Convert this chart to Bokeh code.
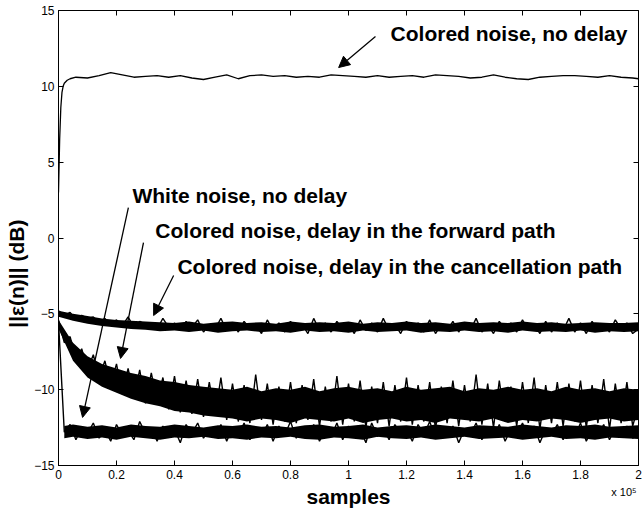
import numpy as np
from bokeh.plotting import figure
from bokeh.models import Arrow, NormalHead, Label, LinearAxis, FixedTicker, Range1d
from bokeh.embed import file_html
from bokeh.resources import INLINE

# ---------------- data ----------------
x_ticks = [0, 0.2, 0.4, 0.6, 0.8, 1, 1.2, 1.4, 1.6, 1.8, 2]
x_tick_labels = ["0", "0.2", "0.4", "0.6", "0.8", "1", "1.2", "1.4", "1.6", "1.8", "2"]
y_ticks = [-15, -10, -5, 0, 5, 10, 15]

# Colored noise, no delay (smooth curve)
x_col_nodelay = [0, 0.004, 0.008, 0.012, 0.016, 0.02, 0.03, 0.04,
                 0.06, 0.10, 0.14, 0.18, 0.22, 0.26, 0.30, 0.34, 0.38, 0.42,
                 0.46, 0.50, 0.54, 0.58, 0.62, 0.66, 0.70, 0.74, 0.78, 0.82,
                 0.86, 0.90, 0.94, 0.98, 1.02, 1.06, 1.10, 1.14, 1.18, 1.22,
                 1.26, 1.30, 1.34, 1.38, 1.42, 1.46, 1.50, 1.54, 1.58, 1.62,
                 1.66, 1.70, 1.74, 1.78, 1.82, 1.86, 1.90, 1.94, 1.98, 2.0]
y_col_nodelay = [3.0, 6.5, 8.6, 9.6, 10.0, 10.2, 10.4, 10.5,
                 10.6, 10.55, 10.7, 10.9, 10.75, 10.6, 10.65, 10.7, 10.6, 10.7,
                 10.55, 10.45, 10.6, 10.75, 10.5, 10.7, 10.75, 10.65, 10.7, 10.6,
                 10.65, 10.6, 10.75, 10.7, 10.65, 10.6, 10.7, 10.6, 10.65, 10.7,
                 10.6, 10.75, 10.7, 10.65, 10.55, 10.6, 10.75, 10.6, 10.5, 10.45,
                 10.6, 10.65, 10.7, 10.7, 10.65, 10.6, 10.7, 10.6, 10.55, 10.5]

# sample positions of the noisy curves (x 10^5)
x_noisy = [round(0.02 * i, 2) for i in range(101)]

# Colored noise, delay in the cancellation path
y_col_cancel = [
    -4.8, -5.1, -4.9, -5.4, -5.1, -5.3, -5.2, -5.6, -5.3, -5.7,
    -5.4, -5.8, -5.2, -5.9, -5.5, -5.7, -5.6, -6.0, -5.3, -5.9,
    -5.6, -6.1, -5.5, -5.9, -5.4, -6.2, -5.7, -6.0, -5.3, -6.1,
    -5.6, -6.2, -5.5, -6.0, -5.7, -6.3, -5.4, -6.1, -5.6, -6.2,
    -5.5, -6.1, -5.7, -6.3, -5.3, -6.1, -5.6, -6.2, -5.5, -6.0,
    -5.7, -6.3, -5.4, -6.1, -5.6, -6.2, -5.3, -6.1, -5.7, -6.3,
    -5.5, -6.0, -5.6, -6.2, -5.4, -6.3, -5.7, -6.1, -5.5, -6.2,
    -5.6, -6.1, -5.3, -6.2, -5.7, -6.3, -5.5, -6.0, -5.6, -6.2,
    -5.4, -6.1, -5.7, -6.3, -5.5, -6.2, -5.6, -6.1, -5.3, -6.2,
    -5.6, -6.3, -5.5, -6.1, -5.7, -6.2, -5.4, -6.0, -5.6, -6.3,
    -6.0]

# Colored noise, delay in the forward path
y_col_forward = [
    -5.4, -6.9, -6.5, -8.0, -7.3, -8.7, -7.7, -9.2, -8.1, -9.7,
    -8.3, -10.3, -8.6, -10.5, -8.7, -10.9, -8.9, -10.8, -9.2, -11.3,
    -9.1, -11.5, -9.4, -11.6, -9.3, -11.8, -9.5, -11.7, -9.2, -12.0,
    -9.6, -12.1, -9.7, -12.2, -9.0, -12.0, -9.6, -12.3, -9.8, -12.1,
    -9.5, -12.2, -9.7, -12.0, -9.3, -12.4, -9.8, -12.1, -9.1, -12.3,
    -9.6, -12.1, -9.4, -12.5, -9.8, -12.2, -9.5, -12.4, -9.7, -12.1,
    -9.2, -12.3, -9.7, -12.1, -9.5, -12.6, -9.8, -12.2, -9.4, -12.4,
    -9.7, -12.1, -9.0, -12.3, -9.6, -12.5, -9.4, -12.1, -9.8, -12.4,
    -9.5, -12.2, -9.2, -12.6, -9.7, -12.2, -9.5, -12.4, -9.6, -12.1,
    -9.4, -12.5, -9.7, -12.2, -9.3, -12.6, -9.6, -12.2, -9.5, -12.4,
    -11.0]

# White noise, no delay
y_white = [
    -5.5, -12.8, -12.3, -13.3, -12.5, -12.9, -12.2, -13.2, -12.6, -13.4,
    -12.3, -13.0, -12.7, -13.3, -12.1, -12.9, -12.5, -13.4, -12.4, -13.0,
    -12.6, -13.5, -12.3, -12.9, -12.2, -13.2, -12.6, -13.1, -12.3, -13.4,
    -12.5, -13.0, -12.2, -13.3, -12.6, -13.1, -12.3, -13.4, -12.4, -13.0,
    -12.1, -13.2, -12.5, -13.0, -12.3, -13.4, -12.6, -13.1, -12.2, -13.3,
    -12.4, -13.0, -12.6, -13.5, -12.2, -13.1, -12.5, -13.3, -12.3, -12.9,
    -12.6, -13.4, -12.3, -13.0, -12.1, -13.2, -12.5, -13.1, -12.4, -13.5,
    -12.6, -13.0, -12.2, -13.3, -12.5, -13.1, -12.3, -13.4, -12.6, -13.0,
    -12.2, -13.2, -12.4, -13.5, -12.6, -13.0, -12.3, -13.3, -12.5, -13.1,
    -12.2, -13.4, -12.6, -13.0, -12.3, -13.3, -12.5, -13.1, -12.4, -13.2,
    -12.8]

# dense cores of the noisy bands (every 0.05 x 10^5)
x_core = [round(0.05 * i, 2) for i in range(41)]
cancel_hi = [-4.8, -5.0, -5.15, -5.3, -5.4, -5.45, -5.5,
             -5.55, -5.6, -5.5, -5.65, -5.55, -5.5, -5.6, -5.55, -5.65, -5.5,
             -5.6, -5.55, -5.6, -5.5, -5.65, -5.55, -5.6, -5.5, -5.6, -5.55,
             -5.65, -5.5, -5.6, -5.55, -5.6, -5.5, -5.6, -5.55, -5.65, -5.6,
             -5.55, -5.6, -5.6, -5.55]
cancel_lo = [-5.2, -5.45, -5.65, -5.8, -5.9, -6.0, -6.05,
             -6.15, -6.1, -6.2, -6.1, -6.25, -6.15, -6.1, -6.2, -6.15, -6.25,
             -6.1, -6.2, -6.15, -6.25, -6.1, -6.2, -6.15, -6.1, -6.25, -6.15,
             -6.2, -6.1, -6.2, -6.15, -6.25, -6.1, -6.2, -6.15, -6.2, -6.1,
             -6.25, -6.15, -6.2, -6.15]
forward_hi = [-5.4, -6.9, -7.8, -8.3, -8.6, -8.9, -9.1, -9.4, -9.5, -9.7, -9.8,
              -9.9, -10.0, -9.8, -10.1, -9.9, -10.0, -9.8, -10.1, -9.9, -9.8,
              -10.0, -9.9, -10.1, -9.8, -10.0, -9.9, -9.8, -10.1, -9.9, -10.0,
              -9.8, -10.0, -9.9, -10.1, -9.8, -10.0, -9.9, -10.1, -9.9, -10.0]
forward_lo = [-6.0, -8.1, -9.2, -9.8, -10.2, -10.6, -10.9, -11.1, -11.4, -11.5, -11.7,
              -11.8, -11.9, -12.1, -11.9, -12.0, -12.2, -11.9, -12.0, -12.1, -11.9,
              -12.2, -12.0, -11.9, -12.1, -12.0, -12.2, -11.9, -12.0, -12.1, -11.9,
              -12.2, -12.0, -12.1, -11.9, -12.0, -12.2, -12.0, -11.9, -12.1, -12.0]
x_white_core = [0.02] + x_core[1:]
white_hi = [-12.4, -12.3, -12.45, -12.35, -12.5, -12.3, -12.4, -12.45, -12.3, -12.4, -12.5,
            -12.35, -12.4, -12.3, -12.45, -12.4, -12.5, -12.35, -12.3, -12.45, -12.4,
            -12.3, -12.5, -12.4, -12.35, -12.45, -12.3, -12.4, -12.5, -12.35, -12.4,
            -12.45, -12.3, -12.4, -12.5, -12.35, -12.4, -12.3, -12.45, -12.4, -12.35]
white_lo = [-13.2, -13.1, -13.25, -13.15, -13.3, -13.1, -13.2, -13.3, -13.15, -13.2, -13.1,
            -13.25, -13.2, -13.3, -13.15, -13.2, -13.1, -13.25, -13.3, -13.15, -13.2,
            -13.3, -13.1, -13.2, -13.25, -13.15, -13.3, -13.2, -13.1, -13.25, -13.2,
            -13.15, -13.3, -13.2, -13.1, -13.25, -13.2, -13.3, -13.15, -13.2, -13.25]

# axis texts
x_title = "samples"
x_scale_note = "x 10⁵"
y_title = "||ε(n)|| (dB)"

# ---------------- figure ----------------
FONT = "Liberation Sans"

p = figure(width=644, height=517,
           x_range=Range1d(0, 2), y_range=Range1d(-15, 15),
           output_backend="svg", toolbar_location=None,
           min_border_left=58, min_border_right=6,
           min_border_top=10, min_border_bottom=52)
p.background_fill_color = "white"
p.border_fill_color = "white"
p.outline_line_color = "black"
p.outline_line_width = 1
p.xgrid.visible = False
p.ygrid.visible = False

for ax in (p.xaxis[0], p.yaxis[0]):
    ax.major_tick_in = 5
    ax.major_tick_out = 0
    ax.minor_tick_line_color = None
    ax.axis_line_color = "black"
    ax.major_label_text_font = FONT
    ax.major_label_text_font_size = "12px"
    ax.major_label_text_color = "black"
    ax.major_label_standoff = 4

p.xaxis.ticker = FixedTicker(ticks=x_ticks)
p.xaxis.major_label_overrides = {t: s for t, s in zip(x_ticks, x_tick_labels)}
p.yaxis.ticker = FixedTicker(ticks=y_ticks)

# ticks on top and right (no labels)
top_ax = LinearAxis(ticker=FixedTicker(ticks=x_ticks), major_tick_in=5, major_tick_out=0,
                    minor_tick_line_color=None, axis_line_color=None,
                    major_label_text_font_size="1px", major_label_text_color=None,
                    major_label_standoff=0)
p.add_layout(top_ax, "above")
right_ax = LinearAxis(ticker=FixedTicker(ticks=y_ticks), major_tick_in=5, major_tick_out=0,
                      minor_tick_line_color=None, axis_line_color=None,
                      major_label_text_font_size="1px", major_label_text_color=None,
                      major_label_standoff=0)
p.add_layout(right_ax, "right")

# second bottom axis: carries the "x 10^5" note and the "samples" title
note_x = 1.95
bottom2 = LinearAxis(ticker=FixedTicker(ticks=[note_x]),
                     major_label_overrides={note_x: x_scale_note},
                     major_tick_line_color=None, minor_tick_line_color=None,
                     axis_line_color=None, major_tick_in=0, major_tick_out=0,
                     major_label_standoff=4, major_label_text_font=FONT,
                     major_label_text_font_size="11px", major_label_text_color="black",
                     axis_label=x_title, axis_label_standoff=-16,
                     axis_label_text_font=FONT, axis_label_text_font_style="bold",
                     axis_label_text_font_size="21px", axis_label_text_color="black")
p.add_layout(bottom2, "below")

# second left axis: carries the y title as a rotated label
title_y = -2.35
left2 = LinearAxis(ticker=FixedTicker(ticks=[title_y]),
                   major_label_overrides={title_y: y_title},
                   major_label_orientation="vertical",
                   major_tick_line_color=None, minor_tick_line_color=None,
                   axis_line_color=None, major_tick_in=0, major_tick_out=0,
                   major_label_standoff=3, major_label_text_font=FONT,
                   major_label_text_font_style="bold",
                   major_label_text_font_size="21px", major_label_text_color="black")
p.add_layout(left2, "left")

# bands
p.varea(x=x_core, y1=cancel_lo, y2=cancel_hi, color="black")
p.varea(x=x_core, y1=forward_lo, y2=forward_hi, color="black")
p.varea(x=x_white_core, y1=white_lo, y2=white_hi, color="black")

p.line(x_noisy, y_col_forward, color="black", line_width=1.4)
p.line(x_noisy, y_white, color="black", line_width=1.4)
p.line(x_noisy, y_col_cancel, color="black", line_width=1.4)
p.line(x_col_nodelay, y_col_nodelay, color="black", line_width=1.3)

# annotations
def lab(x, y, txt, size="21px", **kw):
    p.add_layout(Label(x=x, y=y, text=txt, text_font=FONT, text_font_style="bold",
                       text_font_size=size, text_color="black",
                       text_baseline="middle", text_align="left", **kw))

lab(1.145, 13.48, "Colored noise, no delay")
lab(0.255, 2.8, "White noise, no delay")
lab(0.334, 0.5, "Colored noise, delay in the forward path")
lab(0.41, -1.9, "Colored noise, delay in the cancellation path")

def arr(x0, y0, x1, y1):
    p.add_layout(Arrow(end=NormalHead(size=11, fill_color="black", line_color="black"),
                       x_start=x0, y_start=y0, x_end=x1, y_end=y1,
                       line_color="black", line_width=1.3))

arr(1.093, 13.29, 0.966, 11.24)
arr(0.241, 2.01, 0.083, -11.83)
arr(0.293, -0.30, 0.214, -7.94)
arr(0.397, -2.47, 0.328, -5.11)

open("out.html", "w").write(file_html(p, INLINE))
